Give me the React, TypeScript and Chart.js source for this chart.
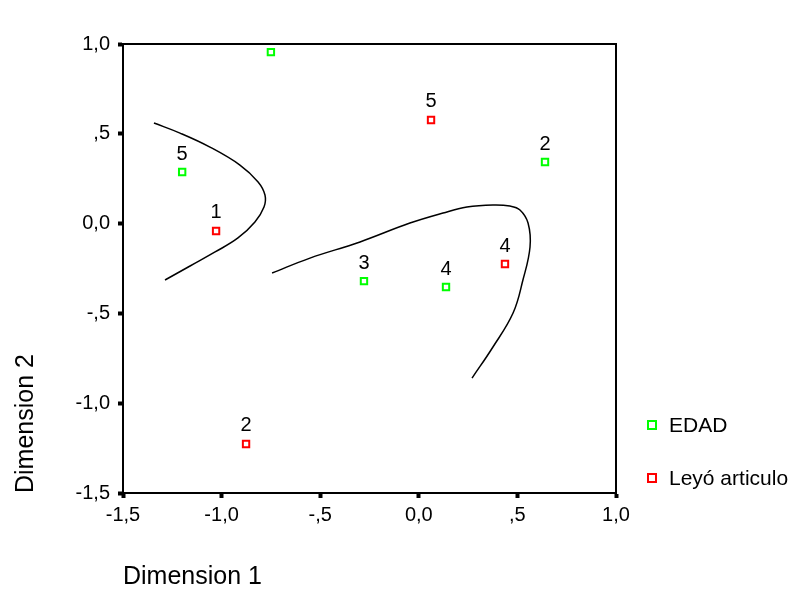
import React, { useEffect, useRef } from "react";
import { Chart, registerables } from "chart.js";

Chart.register(...registerables);

// EDAD category points (Dimension 1, Dimension 2) and labels
const edadX = [-0.75, -1.2, 0.64, -0.278, 0.138];
const edadY = [0.955, 0.287, 0.343, -0.32, -0.353];
const edadLabels = ["", "5", "2", "3", "4"];

// Leyó articulo category points
const leyoX = [-1.028, 0.062, 0.437, -0.876];
const leyoY = [-0.041, 0.577, -0.225, -1.227];
const leyoLabels = ["1", "5", "4", "2"];

// Left boundary curve
const curve1X = [-1.343, -1.211, -1.059, -0.907, -0.815, -0.78, -0.785, -0.831, -0.917, -1.033, -1.16, -1.287];
const curve1Y = [0.56, 0.504, 0.426, 0.326, 0.232, 0.159, 0.092, 0.009, -0.08, -0.158, -0.236, -0.314];

// Right boundary curve
const curve2X = [-0.744, -0.552, -0.298, -0.045, 0.123, 0.244, 0.376, 0.462, 0.513, 0.554, 0.564, 0.528, 0.478, 0.376, 0.27];
const curve2Y = [-0.275, -0.192, -0.102, 0.003, 0.059, 0.092, 0.104, 0.098, 0.076, 0.003, -0.13, -0.314, -0.498, -0.687, -0.86];

// Axis ticks
const tickValues = [-1.5, -1.0, -0.5, 0.0, 0.5, 1.0];
const tickTexts = ["-1,5", "-1,0", "-,5", "0,0", ",5", "1,0"];

const seriesNames = ["EDAD", "Leyó articulo"];
const seriesColors = ["#00ff00", "#ff0000"];

const FONT = "'Liberation Sans', Arial, sans-serif";

const zip = (xs: number[], ys: number[]) => xs.map((x, i) => ({ x, y: ys[i] }));

const fmtTick = (v: number) => {
  const idx = tickValues.findIndex((t) => Math.abs(t - v) < 1e-6);
  return idx >= 0 ? tickTexts[idx] : "";
};

const extrasPlugin = {
  id: "extras",
  afterDatasetsDraw(chart: any) {
    const { ctx, chartArea } = chart;
    ctx.save();
    // box around plot
    ctx.strokeStyle = "#000";
    ctx.lineWidth = 2;
    ctx.beginPath();
    ctx.moveTo(chartArea.left, chartArea.top);
    ctx.lineTo(chartArea.right, chartArea.top);
    ctx.lineTo(chartArea.right, chartArea.bottom);
    ctx.stroke();
    // point labels
    ctx.fillStyle = "#000";
    ctx.font = `20px ${FONT}`;
    ctx.textAlign = "center";
    ctx.textBaseline = "bottom";
    const labelSets: Record<number, string[]> = { 0: edadLabels, 1: leyoLabels };
    [0, 1].forEach((di) => {
      const meta = chart.getDatasetMeta(di);
      meta.data.forEach((pt: any, i: number) => {
        const t = labelSets[di][i];
        if (t) ctx.fillText(t, pt.x, pt.y - 8);
      });
    });
    // legend
    const lx = 652;
    const ly = [425, 478];
    seriesNames.forEach((name, i) => {
      ctx.strokeStyle = seriesColors[i];
      ctx.lineWidth = 2;
      ctx.fillStyle = "#fff";
      ctx.fillRect(lx - 4, ly[i] - 4, 8, 8);
      ctx.strokeRect(lx - 4, ly[i] - 4, 8, 8);
      ctx.fillStyle = "#000";
      ctx.textAlign = "left";
      ctx.textBaseline = "middle";
      ctx.font = `21px ${FONT}`;
      ctx.fillText(name, 669, ly[i] + 1);
    });
    ctx.restore();
  },
};

export default function App() {
  const ref = useRef<HTMLCanvasElement | null>(null);
  useEffect(() => {
    if (!ref.current) return;
    const chart = new Chart(ref.current, {
      type: "scatter",
      data: {
        datasets: [
          {
            label: seriesNames[0],
            data: zip(edadX, edadY),
            pointStyle: "rect",
            pointRadius: 4.5,
            borderColor: seriesColors[0],
            backgroundColor: "#fff",
            borderWidth: 2,
          },
          {
            label: seriesNames[1],
            data: zip(leyoX, leyoY),
            pointStyle: "rect",
            pointRadius: 4.5,
            borderColor: seriesColors[1],
            backgroundColor: "#fff",
            borderWidth: 2,
          },
          {
            label: "curve1",
            type: "line",
            data: zip(curve1X, curve1Y),
            borderColor: "#000",
            borderWidth: 1.5,
            pointRadius: 0,
            tension: 0.4,
            fill: false,
            showLine: true,
          } as any,
          {
            label: "curve2",
            type: "line",
            data: zip(curve2X, curve2Y),
            borderColor: "#000",
            borderWidth: 1.5,
            pointRadius: 0,
            tension: 0.4,
            fill: false,
            showLine: true,
          } as any,
        ],
      },
      options: {
        animation: false,
        responsive: true,
        maintainAspectRatio: false,
        layout: { padding: { left: 0, top: 44, right: 190, bottom: 0 } },
        plugins: {
          legend: { display: false },
          tooltip: { enabled: false },
        },
        scales: {
          x: {
            type: "linear",
            min: -1.5,
            max: 1.0,
            afterFit: (s: any) => {
              s.height = 97;
            },
            afterBuildTicks: (s: any) => {
              s.ticks = tickValues.map((v) => ({ value: v }));
            },
            ticks: {
              callback: (v: any) => fmtTick(Number(v)),
              color: "#000",
              font: { family: FONT, size: 20 },
              padding: 5,
              maxRotation: 0,
              autoSkip: false,
            },
            grid: {
              drawOnChartArea: false,
              drawTicks: true,
              tickLength: 5,
              tickWidth: 4,
              tickColor: "#000",
            },
            border: { display: true, color: "#000", width: 2 },
            title: {
              display: true,
              text: "Dimension 1",
              align: "start",
              color: "#000",
              font: { family: FONT, size: 25, lineHeight: 1 },
              padding: { top: 0, bottom: 0 },
            },
          },
          y: {
            type: "linear",
            min: -1.5,
            max: 1.0,
            afterFit: (s: any) => {
              s.width = 123;
            },
            afterBuildTicks: (s: any) => {
              s.ticks = tickValues.map((v) => ({ value: v }));
            },
            ticks: {
              callback: (v: any) => fmtTick(Number(v)),
              color: "#000",
              font: { family: FONT, size: 20 },
              padding: 8,
              autoSkip: false,
            },
            grid: {
              drawOnChartArea: false,
              drawTicks: true,
              tickLength: 5,
              tickWidth: 4,
              tickColor: "#000",
            },
            border: { display: true, color: "#000", width: 2 },
            title: {
              display: true,
              text: "Dimension 2",
              align: "start",
              color: "#000",
              font: { family: FONT, size: 25, lineHeight: 1 },
              padding: { top: 14, bottom: 0 },
            },
          },
        },
      },
      plugins: [extrasPlugin],
    });
    return () => chart.destroy();
  }, []);
  return (
    <div style={{ position: "fixed", left: 0, top: 0, width: 806, height: 590, background: "#fff" }}>
      <canvas ref={ref} />
    </div>
  );
}
